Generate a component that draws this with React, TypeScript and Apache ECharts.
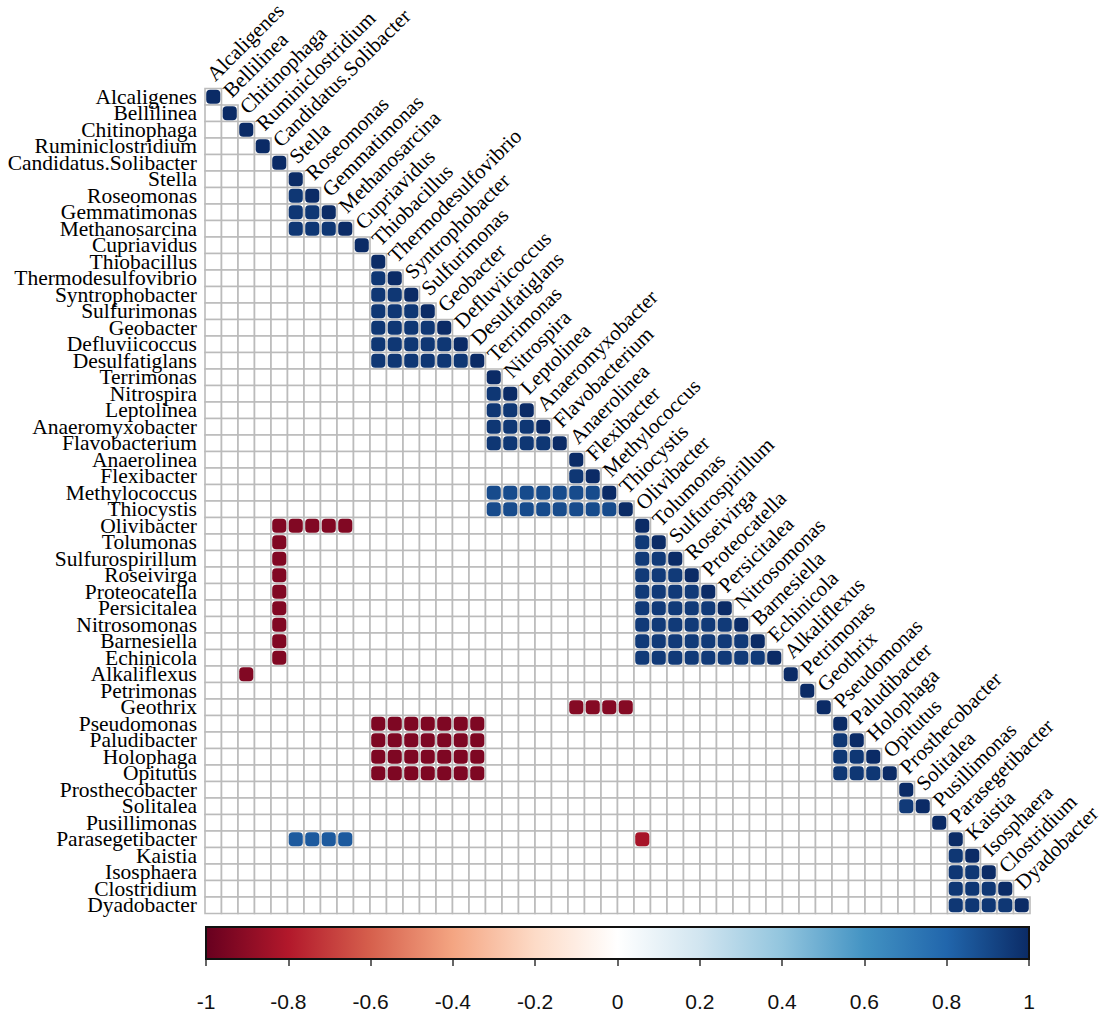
import React, { useEffect, useRef } from "react";
import * as echarts from "echarts";

const taxa = [
  "Alcaligenes", "Bellilinea", "Chitinophaga", "Ruminiclostridium", "Candidatus.Solibacter",
  "Stella", "Roseomonas", "Gemmatimonas", "Methanosarcina", "Cupriavidus",
  "Thiobacillus", "Thermodesulfovibrio", "Syntrophobacter", "Sulfurimonas", "Geobacter",
  "Defluviicoccus", "Desulfatiglans", "Terrimonas", "Nitrospira", "Leptolinea",
  "Anaeromyxobacter", "Flavobacterium", "Anaerolinea", "Flexibacter", "Methylococcus",
  "Thiocystis", "Olivibacter", "Tolumonas", "Sulfurospirillum", "Roseivirga",
  "Proteocatella", "Persicitalea", "Nitrosomonas", "Barnesiella", "Echinicola",
  "Alkaliflexus", "Petrimonas", "Geothrix", "Pseudomonas", "Paludibacter",
  "Holophaga", "Opitutus", "Prosthecobacter", "Solitalea", "Pusillimonas",
  "Parasegetibacter", "Kaistia", "Isosphaera", "Clostridium", "Dyadobacter",
];

// positively correlated modules (all pairs inside a module)
const modules = [
  ["Stella", "Roseomonas", "Gemmatimonas", "Methanosarcina"],
  ["Thiobacillus", "Thermodesulfovibrio", "Syntrophobacter", "Sulfurimonas", "Geobacter", "Defluviicoccus", "Desulfatiglans"],
  ["Terrimonas", "Nitrospira", "Leptolinea", "Anaeromyxobacter", "Flavobacterium"],
  ["Anaerolinea", "Flexibacter"],
  ["Olivibacter", "Tolumonas", "Sulfurospirillum", "Roseivirga", "Proteocatella", "Persicitalea", "Nitrosomonas", "Barnesiella", "Echinicola"],
  ["Pseudomonas", "Paludibacter", "Holophaga", "Opitutus"],
  ["Prosthecobacter", "Solitalea"],
  ["Parasegetibacter", "Kaistia", "Isosphaera", "Clostridium", "Dyadobacter"],
];
const moduleR = [0.96, 0.96, 0.96, 0.96, 0.95, 0.96, 0.95, 0.96];

// cross-module correlations: rows x cols with one value
const crossRows = [
  ["Methylococcus", "Thiocystis"],
  ["Thiocystis"],
  ["Olivibacter"],
  ["Olivibacter", "Tolumonas", "Sulfurospirillum", "Roseivirga", "Proteocatella", "Persicitalea", "Nitrosomonas", "Barnesiella", "Echinicola"],
  ["Alkaliflexus"],
  ["Geothrix"],
  ["Pseudomonas", "Paludibacter", "Holophaga", "Opitutus"],
  ["Parasegetibacter"],
  ["Parasegetibacter"],
];
const crossCols = [
  ["Terrimonas", "Nitrospira", "Leptolinea", "Anaeromyxobacter", "Flavobacterium", "Anaerolinea", "Flexibacter"],
  ["Methylococcus"],
  ["Stella", "Roseomonas", "Gemmatimonas", "Methanosarcina"],
  ["Candidatus.Solibacter"],
  ["Chitinophaga"],
  ["Anaerolinea", "Flexibacter", "Methylococcus", "Thiocystis"],
  ["Thiobacillus", "Thermodesulfovibrio", "Syntrophobacter", "Sulfurimonas", "Geobacter", "Defluviicoccus", "Desulfatiglans"],
  ["Stella", "Roseomonas", "Gemmatimonas", "Methanosarcina"],
  ["Olivibacter"],
];
const crossR = [0.89, 0.89, -0.93, -0.93, -0.93, -0.92, -0.94, 0.84, -0.83];

const colorTicks = [-1, 1, 0.2];
const palette = ["#67001F", "#B2182B", "#D6604D", "#F4A582", "#FDDBC7", "#FFFFFF", "#D1E5F0", "#92C5DE", "#4393C3", "#2166AC", "#0B2B66"];

function buildCells() {
  const idx = (n: string) => taxa.indexOf(n);
  const cells: number[][] = [];
  taxa.forEach((_, i) => cells.push([i, i, 1]));
  modules.forEach((m, k) => {
    for (let a = 0; a < m.length; a++)
      for (let b = 0; b < a; b++) cells.push([idx(m[b]), idx(m[a]), moduleR[k]]);
  });
  crossRows.forEach((rows, k) => {
    rows.forEach((r) => crossCols[k].forEach((c) => {
      const ri = idx(r), ci = idx(c);
      if (ri > ci) cells.push([ci, ri, crossR[k]]);
    }));
  });
  return cells;
}

export default function App() {
  const ref = useRef<HTMLDivElement>(null);
  useEffect(() => {
    if (!ref.current) return;
    const chart = echarts.init(ref.current, null, { renderer: "svg" });
    const bg: number[][] = [];
    taxa.forEach((_, i) => { for (let j = 0; j <= i; j++) bg.push([j, i]); });
    const cells = buildCells();
    const option: any = {
      animation: false,
      backgroundColor: "#ffffff",
      grid: [
        { left: 205, top: 88.5, width: 825, height: 825 },
        { left: 206, top: 927, width: 823, height: 32 },
      ],
      xAxis: [
        { gridIndex: 0, type: "category", data: taxa, show: false },
        {
          gridIndex: 1, type: "value", min: colorTicks[0], max: colorTicks[1], interval: colorTicks[2],
          position: "bottom",
          axisLine: { show: false },
          axisTick: { show: true, length: 7, lineStyle: { color: "#333", width: 1.5 } },
          splitLine: { show: false },
          axisLabel: { margin: 32, fontFamily: "Liberation Sans", fontSize: 21, color: "#111" },
        },
      ],
      yAxis: [
        {
          gridIndex: 0, type: "category", data: taxa, inverse: true,
          axisLine: { show: false }, axisTick: { show: false }, splitLine: { show: false },
          axisLabel: { interval: 0, margin: 8, fontFamily: "Liberation Serif", fontSize: 21.5, color: "#000" },
        },
        { gridIndex: 1, type: "value", min: 0, max: 1, show: false },
      ],
      visualMap: {
        show: false, type: "continuous", min: -1, max: 1, dimension: 2, seriesIndex: 1,
        inRange: { color: palette },
      },
      series: [
        {
          type: "custom", xAxisIndex: 0, yAxisIndex: 0, data: bg,
          renderItem: (params: any, api: any) => {
            const c = api.coord([api.value(0), api.value(1)]);
            const s = api.size([1, 1]);
            return {
              type: "rect",
              shape: { x: c[0] - s[0] / 2, y: c[1] - s[1] / 2, width: s[0], height: s[1] },
              style: { fill: "#ffffff", stroke: "#BBBBBB", lineWidth: 1.6 },
            };
          },
        },
        {
          type: "custom", xAxisIndex: 0, yAxisIndex: 0, data: cells,
          renderItem: (params: any, api: any) => {
            const c = api.coord([api.value(0), api.value(1)]);
            const s = api.size([1, 1]);
            const w = s[0] - 2.4;
            return {
              type: "rect",
              shape: { x: c[0] - w / 2, y: c[1] - w / 2, width: w, height: w, r: 4 },
              style: { fill: api.visual("color") },
            };
          },
        },
        {
          type: "custom", xAxisIndex: 0, yAxisIndex: 0,
          data: taxa.map((_, j) => [j, j]),
          renderItem: (params: any, api: any) => {
            const c = api.coord([api.value(0), api.value(1)]);
            const s = api.size([1, 1]);
            return {
              type: "text",
              x: c[0] - 3,
              y: c[1] - s[1] - 3,
              rotation: Math.PI / 4,
              style: {
                text: taxa[params.dataIndex],
                fontFamily: "Liberation Serif", fontSize: 21, fill: "#000",
                align: "left", verticalAlign: "middle",
              },
            };
          },
        },
        {
          type: "custom", xAxisIndex: 1, yAxisIndex: 1, data: [[colorTicks[0], 0]],
          renderItem: (params: any, api: any) => {
            const a = api.coord([colorTicks[0], 1]);
            const b = api.coord([colorTicks[1], 0]);
            return {
              type: "rect",
              shape: { x: a[0], y: a[1], width: b[0] - a[0], height: b[1] - a[1] },
              style: {
                fill: new echarts.graphic.LinearGradient(0, 0, 1, 0,
                  palette.map((col, i) => ({ offset: i / (palette.length - 1), color: col }))),
                stroke: "#111", lineWidth: 2,
              },
            };
          },
        },
      ],
    };
    chart.setOption(option);
    return () => chart.dispose();
  }, []);
  return (
    <div
      ref={ref}
      style={{ position: "absolute", left: 0, top: 0, width: 1100, height: 1014, background: "#fff" }}
    />
  );
}
